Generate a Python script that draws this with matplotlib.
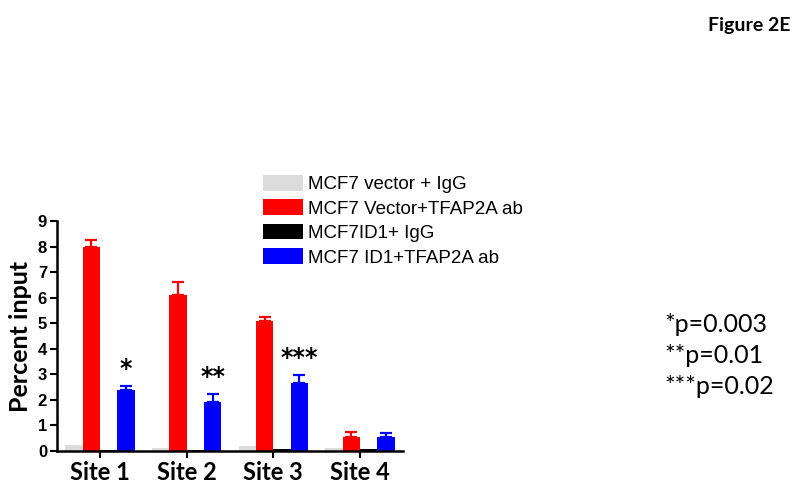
import matplotlib
matplotlib.use("Agg")
import matplotlib.pyplot as plt
import numpy as np

sites = ["Site 1", "Site 2", "Site 3", "Site 4"]
series = ["MCF7 vector + IgG", "MCF7 Vector+TFAP2A ab", "MCF7ID1+ IgG", "MCF7 ID1+TFAP2A ab"]
vec_igg = [0.25, 0.10, 0.18, 0.10]
vec_tf = [8.0, 6.12, 5.08, 0.55]
vec_tf_err = [0.25, 0.48, 0.15, 0.20]
id1_igg = [0.05, 0.05, 0.07, 0.08]
id1_tf = [2.4, 1.93, 2.65, 0.55]
id1_tf_err = [0.15, 0.28, 0.33, 0.15]
stars = ["*", "**", "***", ""]
pvals = ["*p=0.003", "**p=0.01", "***p=0.02"]
colors = ["#dcdcdc", "#ff0000", "#000000", "#0000ff"]

fig = plt.figure(figsize=(8, 4.91), dpi=100)
ax = fig.add_axes([0.071, 0.0815, 0.433, 0.4685])
x = np.arange(len(sites))
w = 0.2
vals = [vec_igg, vec_tf, id1_igg, id1_tf]
errs = [None, vec_tf_err, None, id1_tf_err]
for i, (v, e, c, lab) in enumerate(zip(vals, errs, colors, series)):
    xi = x + (i - 1.5) * w
    ax.bar(xi, v, width=w, color=c, label=lab, zorder=2)
    if e is not None:
        ax.errorbar(xi, v, yerr=[np.zeros(len(e)), e], fmt="none", ecolor=c,
                    elinewidth=1.6, capsize=4.5, capthick=1.6, zorder=1)
for xi, v, e, s in zip(x + 1.5 * w, id1_tf, id1_tf_err, stars):
    if s:
        ax.text(xi, v + e + 0.2, s, ha="center", va="bottom", fontsize=17,
                fontweight="bold", family="DejaVu Sans")

ax.set_xlim(-0.5, 3.5)
ax.set_ylim(0, 9)
ax.set_yticks(range(0, 10))
ax.set_xticks(x)
ax.set_xticklabels(sites, fontsize=17, fontweight="bold", family="Lato")
for t in ax.get_yticklabels():
    t.set_fontsize(12)
    t.set_fontweight("bold")
    t.set_family("Liberation Sans")
ax.set_ylabel("Percent input", fontsize=18, fontweight="bold", family="Lato", labelpad=4)
for s in ["top", "right"]:
    ax.spines[s].set_visible(False)
for s in ["left", "bottom"]:
    ax.spines[s].set_linewidth(1.8)
ax.tick_params(axis="both", width=1.5, length=5, pad=2)

leg = ax.legend(loc="upper left", bbox_to_anchor=(0.595, 1.2), frameon=False,
                prop={"family": "Liberation Sans", "size": 13.5},
                handlelength=2.15, handleheight=0.9, handletextpad=0.25,
                labelspacing=0.33, borderaxespad=0, borderpad=0)

for j, p in enumerate(pvals):
    fig.text(0.83, (491 - 325 - j * 30.5) / 491, p, ha="left", va="center",
             fontsize=18, family="Lato")
fig.text(0.988, (491 - 25) / 491, "Figure 2E", ha="right", va="center",
         fontsize=14, fontweight="bold", family="Lato")

fig.savefig("out.png", dpi=100)
